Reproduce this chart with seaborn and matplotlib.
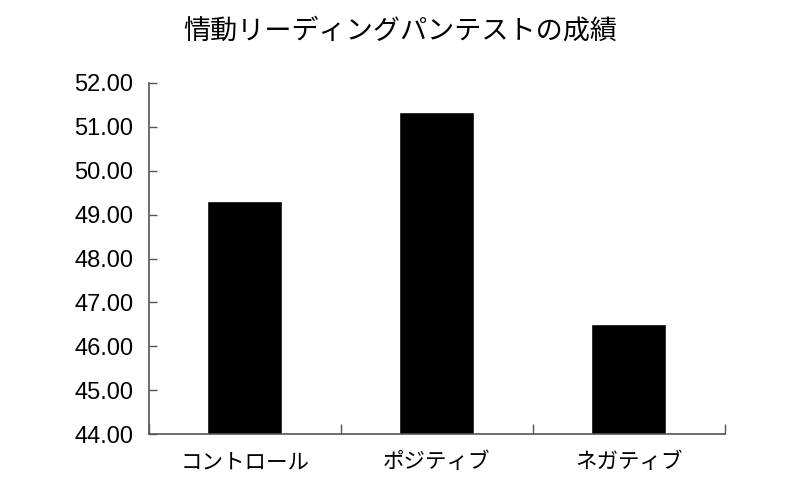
import matplotlib
matplotlib.use("Agg")
import matplotlib.pyplot as plt
import seaborn as sns
import pandas as pd
from matplotlib.ticker import FixedLocator, FormatStrFormatter

# data
groups = ["コントロール", "ポジティブ", "ネガティブ"]
scores = [49.31, 51.34, 46.51]
title = "情動リーディングパンテストの成績"

df = pd.DataFrame({"group": groups, "score": scores})

sns.set_style("white")
plt.rcParams['font.family'] = ['Liberation Sans', 'Noto Sans CJK JP', 'DejaVu Sans']
plt.rcParams['text.color'] = 'black'
plt.rcParams['xtick.color'] = 'black'
plt.rcParams['ytick.color'] = 'black'

fig = plt.figure(figsize=(8, 4.91), dpi=100)
ax = fig.add_axes([0.186, 0.116, 0.72, 0.715])

sns.barplot(data=df, x="group", y="score", color="black", width=0.39,
            saturation=1, ax=ax)

ax.set_ylim(44, 52)
ax.set_xlim(-0.5, 2.5)
ax.set_yticks(range(44, 53))
ax.yaxis.set_major_formatter(FormatStrFormatter("%.2f"))
ax.tick_params(axis="y", left=True, direction="in", length=6, width=1,
               color="#555555", labelcolor="black", labelsize=17, pad=11)
ax.tick_params(axis="x", which="major", bottom=False, pad=9,
               labelcolor="black")
for lab in ax.get_xticklabels():
    lab.set_fontfamily(['Noto Sans CJK JP', 'DejaVu Sans'])
    lab.set_fontsize(15.5)
ax.xaxis.set_minor_locator(FixedLocator([-0.5, 0.5, 1.5, 2.5]))
ax.tick_params(axis="x", which="minor", bottom=True, direction="in",
               length=7, width=1, color="#555555")

for s in ["top", "right"]:
    ax.spines[s].set_visible(False)
for s in ["left", "bottom"]:
    ax.spines[s].set_color("#555555")
    ax.spines[s].set_linewidth(1.2)

ax.set_xlabel("")
ax.set_ylabel("")
fig.suptitle(title, y=0.965, fontsize=19.5, color="black",
             fontfamily=['Noto Sans CJK JP', 'DejaVu Sans'])

fig.savefig("out.png", dpi=100)
